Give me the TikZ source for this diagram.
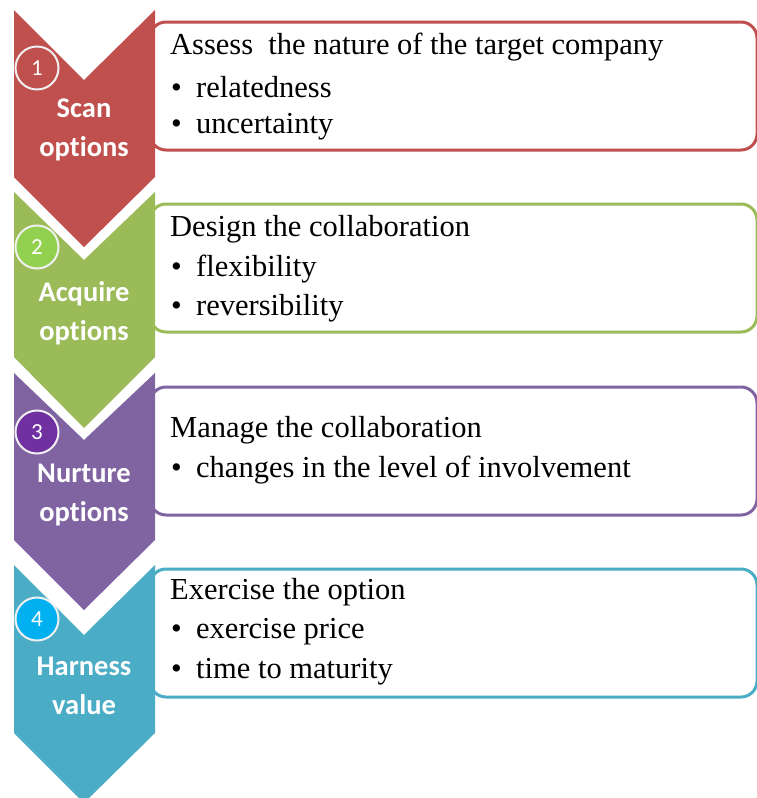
\documentclass[tikz,border=0pt]{standalone}
\usepackage{fontspec}
\setmainfont{Liberation Serif}
\newfontfamily\calib[Ligatures=NoCommon]{Carlito}
\definecolor{cRed}{HTML}{C0504D}
\definecolor{cGreen}{HTML}{9BBB59}
\definecolor{cPurple}{HTML}{8064A2}
\definecolor{cTeal}{HTML}{4BACC6}
\definecolor{dRed}{HTML}{C0504D}
\definecolor{dGreen}{HTML}{92D050}
\definecolor{dPurple}{HTML}{7030A0}
\definecolor{dTeal}{HTML}{00B0F0}
\newcommand{\bul}{\makebox[26pt][l]{\hspace{1pt}\textbullet}}
\tikzset{
  infobox/.style={draw=#1, line width=3pt, rounded corners=16pt, fill=white},
  numcircle/.style={circle, draw=white!88!gray, line width=2pt, fill=#1, minimum size=43pt, inner sep=0pt, text=white, font=\calib\fontsize{23}{23}\selectfont},
  steplabel/.style={text=white, align=center, font=\calib\bfseries\fontsize{28.5}{39}\selectfont},
  linetext/.style={anchor=west, inner sep=0pt, font=\fontsize{30.5}{30.5}\selectfont},
}
\begin{document}
\begin{tikzpicture}[x=1pt,y=-1pt]
\useasboundingbox (0,0) rectangle (757,798);
% boxes
\draw[infobox=cRed] (150,22) rectangle (757,150);
\draw[infobox=cGreen] (150,204) rectangle (757,332);
\draw[infobox=cPurple] (150,387) rectangle (757,515);
\draw[infobox=cTeal] (150,569) rectangle (757,697);
% chevrons
\fill[cRed] (14,10) -- (84,80) -- (155,10) -- (155,177) -- (84,247) -- (14,177) -- cycle;
\fill[cGreen] (14,192) -- (84,260) -- (155,192) -- (155,357) -- (84,428) -- (14,357) -- cycle;
\fill[cPurple] (14,373) -- (84,440) -- (155,373) -- (155,540) -- (84,610) -- (14,540) -- cycle;
\fill[cTeal] (14,565) -- (84,635) -- (155,565) -- (155,733) -- (84,803) -- (14,733) -- cycle;
% circles
\node[numcircle=dRed] (n1) at (37,68) {1};
\node[numcircle=dGreen] (n2) at (37,247) {2};
\node[numcircle=dPurple] (n3) at (37,432) {3};
\node[numcircle=dTeal] (n4) at (37,619) {4};
% step labels
\node[steplabel] (s1) at (84,130) {Scan\\options};
\node[steplabel] (s2) at (84,313) {Acquire\\options};
\node[steplabel] (s3) at (84,495) {Nurture\\options};
\node[steplabel] (s4) at (84,686) {Harness\\value};
% text
\node[linetext] (t1) at (170,47) {Assess\ \ the nature of the target company};
\node[linetext] (t1a) at (170,87) {\bul relatedness};
\node[linetext] (t1b) at (170,127) {\bul uncertainty};
\node[linetext] (t2) at (170,229) {Design the collaboration};
\node[linetext] (t2a) at (170,269) {\bul flexibility};
\node[linetext] (t2b) at (170,308) {\bul reversibility};
\node[linetext] (t3) at (170,430) {Manage the collaboration};
\node[linetext] (t3a) at (170,470) {\bul changes in the level of involvement};
\node[linetext] (t4) at (170,592) {Exercise the option};
\node[linetext] (t4a) at (170,632) {\bul exercise price};
\node[linetext] (t4b) at (170,672) {\bul time to maturity};
\end{tikzpicture}
\end{document}
